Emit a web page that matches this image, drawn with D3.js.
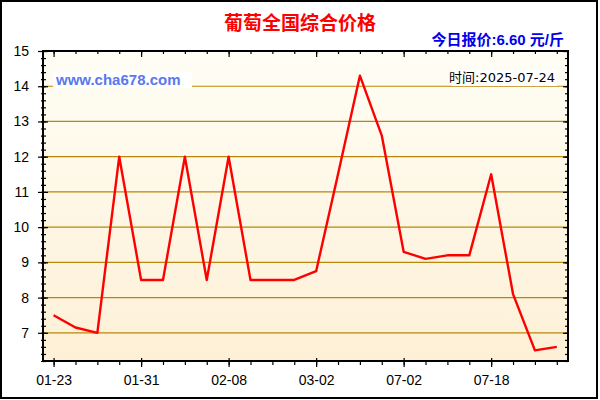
<!DOCTYPE html>
<html>
<head>
<meta charset="utf-8">
<script src="https://cdn.jsdelivr.net/npm/d3@7"></script>
<style>
  body { margin: 0; background: #fff; }
  svg { display: block; font-family: "Liberation Sans", Arial, sans-serif; }
</style>
</head>
<body>
<script>
const width = 600;
const height = 400;
const plot = { left: 43, right: 568, top: 51, bottom: 361 };

// price series, one point per date
const dates = ['01-23', '01-25', '01-27', '01-29', '01-31', '02-02', '02-04', '02-06',
    '02-08', '02-12', '02-18', '02-24', '03-02', '03-08', '03-14', '03-20',
    '07-02', '07-06', '07-10', '07-14', '07-18', '07-20', '07-22', '07-24'];
const prices = [7.5, 7.15, 7.0, 12.0, 8.5, 8.5, 12.0, 8.5,
    12.0, 8.5, 8.5, 8.5, 8.75, 11.5, 14.3, 12.6,
    9.3, 9.1, 9.2, 9.2, 11.5, 8.1, 6.5, 6.6];
const yTicks = [7, 8, 9, 10, 11, 12, 13, 14, 15];
const labelEvery = 4;

const title = '葡萄全国综合价格';
const todayText = '今日报价:6.60 元/斤';
const timeText = '时间:2025-07-24';
const siteText = 'www.cha678.com';

const svg = d3.select("body")
    .append("svg")
    .attr("width", width)
    .attr("height", height);

const defs = svg.append("defs");
const grad = defs.append("linearGradient")
    .attr("id", "bg")
    .attr("x1", 0).attr("y1", 0).attr("x2", 0).attr("y2", 1);
grad.append("stop").attr("offset", "0%").attr("stop-color", "#fffef5");
grad.append("stop").attr("offset", "100%").attr("stop-color", "#fdf0d6");

// outer border
svg.append("rect")
    .attr("x", 1).attr("y", 1)
    .attr("width", 596).attr("height", 397)
    .attr("fill", "#fff")
    .attr("stroke", "#000")
    .attr("stroke-width", 2);

let xScale = d3.scaleLinear()
    .domain([0, dates.length - 1])
    .range([53.6, 556.8]);

let yScale = d3.scaleLinear()
    .domain([6.2, 15])
    .range([plot.bottom, plot.top]);

svg.append("rect")
    .attr("x", plot.left).attr("y", plot.top)
    .attr("width", plot.right - plot.left)
    .attr("height", plot.bottom - plot.top)
    .attr("fill", "url(#bg)");

// grid lines
svg.append("g")
    .selectAll("line")
    .data(yTicks)
    .enter()
    .append("line")
    .attr("x1", plot.left).attr("x2", plot.right)
    .attr("y1", d => yScale(d)).attr("y2", d => yScale(d))
    .attr("stroke", "#b8860b")
    .attr("stroke-width", 1.2);

// white label boxes over the grid
svg.append("rect")
    .attr("x", 53).attr("y", 72).attr("width", 139).attr("height", 16)
    .attr("fill", "#fff");
svg.append("text")
    .attr("x", 56).attr("y", 85)
    .attr("fill", "#5a78ec")
    .attr("font-weight", "bold")
    .attr("font-size", 15)
    .text(siteText);

svg.append("rect")
    .attr("x", 452).attr("y", 70).attr("width", 105).attr("height", 16)
    .attr("fill", "#fff");
svg.append("text")
    .attr("x", 555).attr("y", 82)
    .attr("text-anchor", "end")
    .attr("font-size", 13)
    .attr("fill", "#000")
    .style("font-family", "'DejaVu Sans', 'Noto Sans CJK SC', sans-serif")
    .text(timeText);

// price line
const line = d3.line()
    .x((d, i) => xScale(i))
    .y(d => yScale(d));

svg.append("path")
    .datum(prices)
    .attr("d", line)
    .attr("fill", "none")
    .attr("stroke", "#ff0000")
    .attr("stroke-width", 2.4)
    .attr("stroke-linejoin", "round");

// axes: ticks cross the left and bottom edges, inward on top and right
const idx = d3.range(dates.length);
const major = idx.filter(i => i % labelEvery === 0);
const minorY = d3.range(0, 45).map(k => +(6.2 + k * 0.2).toFixed(1));

function tickStyle(g) {
    g.select(".domain").remove();
    g.selectAll(".tick line").attr("stroke", "#000").attr("stroke-width", 1.2);
}

// left
svg.append("g").attr("transform", `translate(${plot.left},0)`)
    .call(d3.axisLeft(yScale).tickValues(minorY).tickSize(2).tickFormat(""))
    .call(tickStyle);
svg.append("g").attr("transform", `translate(${plot.left},0)`)
    .call(d3.axisRight(yScale).tickValues(minorY).tickSize(3).tickFormat(""))
    .call(tickStyle);
svg.append("g").attr("transform", `translate(${plot.left},0)`)
    .call(d3.axisLeft(yScale).tickValues(yTicks).tickSize(5).tickPadding(9).tickFormat(d3.format("d")))
    .call(tickStyle)
    .call(g => g.selectAll("text").attr("font-size", 14).attr("fill", "#000"));
svg.append("g").attr("transform", `translate(${plot.left},0)`)
    .call(d3.axisRight(yScale).tickValues(yTicks).tickSize(5).tickFormat(""))
    .call(tickStyle);

// right
svg.append("g").attr("transform", `translate(${plot.right},0)`)
    .call(d3.axisLeft(yScale).tickValues(minorY).tickSize(3).tickFormat(""))
    .call(tickStyle);
svg.append("g").attr("transform", `translate(${plot.right},0)`)
    .call(d3.axisLeft(yScale).tickValues(yTicks).tickSize(5).tickFormat(""))
    .call(tickStyle);

// bottom
svg.append("g").attr("transform", `translate(0,${plot.bottom})`)
    .call(d3.axisBottom(xScale).tickValues(idx).tickSize(4).tickFormat(""))
    .call(tickStyle);
svg.append("g").attr("transform", `translate(0,${plot.bottom})`)
    .call(d3.axisBottom(xScale).tickValues(major).tickSize(6).tickPadding(8).tickFormat(i => dates[i]))
    .call(tickStyle)
    .call(g => g.selectAll("text").attr("font-size", 14).attr("fill", "#000"));
svg.append("g").attr("transform", `translate(0,${plot.bottom})`)
    .call(d3.axisTop(xScale).tickValues(major).tickSize(3).tickFormat(""))
    .call(tickStyle);

// top
svg.append("g").attr("transform", `translate(0,${plot.top})`)
    .call(d3.axisBottom(xScale).tickValues(idx).tickSize(3).tickFormat(""))
    .call(tickStyle);
svg.append("g").attr("transform", `translate(0,${plot.top})`)
    .call(d3.axisBottom(xScale).tickValues(major).tickSize(6).tickFormat(""))
    .call(tickStyle);

// plot frame
svg.append("rect")
    .attr("x", plot.left).attr("y", plot.top)
    .attr("width", plot.right - plot.left)
    .attr("height", plot.bottom - plot.top)
    .attr("fill", "none")
    .attr("stroke", "#000")
    .attr("stroke-width", 2);

// titles
svg.append("text")
    .attr("x", 300).attr("y", 30)
    .attr("text-anchor", "middle")
    .attr("font-size", 19)
    .attr("font-weight", "bold")
    .attr("fill", "#ff0000")
    .style("font-family", "'Noto Sans CJK SC', sans-serif")
    .text(title);

svg.append("text")
    .attr("x", 564).attr("y", 45)
    .attr("text-anchor", "end")
    .attr("font-size", 15)
    .attr("font-weight", "bold")
    .attr("fill", "#0000ee")
    .style("font-family", "'Liberation Sans', 'Noto Sans CJK SC', sans-serif")
    .text(todayText);
</script>
</body>
</html>
